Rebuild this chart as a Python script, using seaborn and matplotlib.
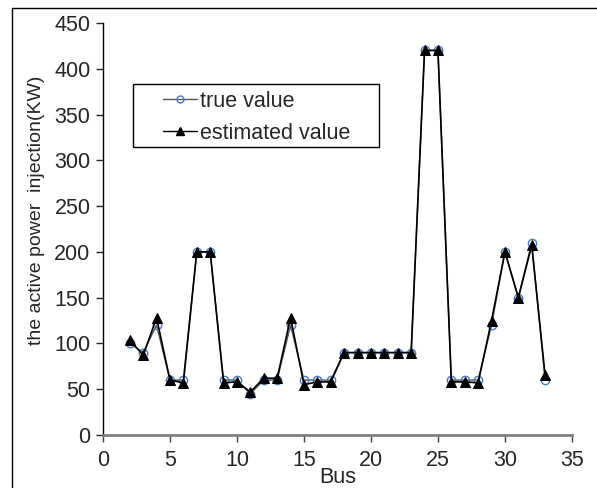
import numpy as np
import pandas as pd
import seaborn as sns
import matplotlib
matplotlib.use('Agg')
import matplotlib.pyplot as plt
from matplotlib.lines import Line2D
from matplotlib.patches import Rectangle

# datos
bus = list(range(2, 34))
true_value = [100, 90, 120, 60, 60, 200, 200, 60, 60, 45, 60, 60, 120, 60, 60, 60,
              90, 90, 90, 90, 90, 90, 420, 420, 60, 60, 60, 120, 200, 150, 210, 60]
estimated_value = [104, 87, 128, 60, 57, 200, 200, 57, 58, 47, 62, 62, 128, 55, 58, 58,
                   90, 90, 90, 90, 90, 90, 420, 420, 58, 58, 57, 125, 200, 150, 207, 65]

sns.set_style('ticks')
plt.rcParams['font.family'] = ['Liberation Sans', 'DejaVu Sans']

fig = plt.figure(figsize=(5.97, 4.88), dpi=100)
ax = fig.add_axes([0.1725, 0.1086, 0.7855, 0.8444])

df = pd.DataFrame({'Bus': bus, 'true': true_value, 'est': estimated_value})
sns.lineplot(data=df, x='Bus', y='true', ax=ax, color='#555555', linewidth=1.0,
             marker='o', markersize=6, markerfacecolor='none',
             markeredgecolor='#4a78c8', markeredgewidth=1.0)
sns.lineplot(data=df, x='Bus', y='est', ax=ax, color='black', linewidth=1.2,
             marker='^', markersize=7, markerfacecolor='black',
             markeredgecolor='black')

ax.set_xlim(0, 35)
ax.set_ylim(0, 450)
ax.set_xticks(np.arange(0, 36, 5))
ax.set_yticks(np.arange(0, 451, 50))
ax.tick_params(axis='both', labelsize=15.5, length=5, direction='out', width=1)
ax.tick_params(axis='x', pad=6, color='#404040')
ax.tick_params(axis='y', pad=4)
ax.set_xlabel('Bus', fontsize=15.5, labelpad=-3)
ax.set_ylabel('the active power  injection(KW)', fontsize=14)
ax.yaxis.set_label_coords(-0.124, 0.546)
for s in ['top', 'right']:
    ax.spines[s].set_visible(False)
ax.spines['left'].set_color('black')
ax.spines['left'].set_linewidth(1)
ax.spines['bottom'].set_color('#808080')
ax.spines['bottom'].set_linewidth(2)

handles = [
    Line2D([], [], color='#555555', lw=1, marker='o', markersize=5,
           markerfacecolor='none', markeredgecolor='#4a78c8'),
    Line2D([], [], color='black', lw=1, marker='^', markersize=6,
           markerfacecolor='black', markeredgecolor='black'),
]
leg = fig.legend(handles, ['true value', 'estimated value'], loc='upper left',
                 bbox_to_anchor=(0.273, 0.814), fontsize=15.5, frameon=False,
                 handlelength=1.6, handletextpad=0.1, borderpad=0,
                 borderaxespad=0, labelspacing=0.5)
# caja de la leyenda
fig.add_artist(Rectangle((0.2228, 0.6988), 0.412, 0.1291, transform=fig.transFigure,
                         fill=False, edgecolor='black', lw=1))

# marco exterior (solo izquierda y arriba)
fig.add_artist(Line2D([0.02, 0.02], [0, 0.984], color='black', lw=1, transform=fig.transFigure))
fig.add_artist(Line2D([0.02, 1.0], [0.984, 0.984], color='black', lw=1, transform=fig.transFigure))

fig.savefig('out.png', dpi=100)
